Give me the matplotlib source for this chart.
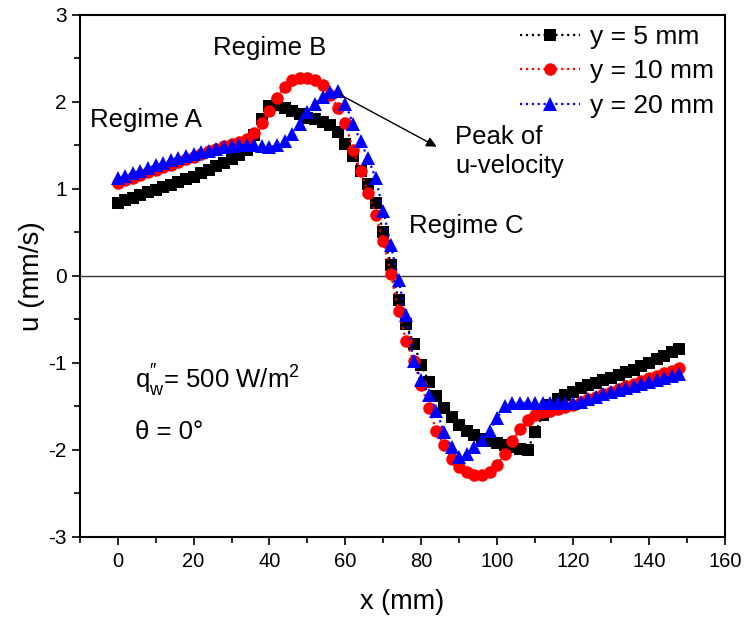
import numpy as np
import matplotlib
matplotlib.use("Agg")
import matplotlib.pyplot as plt
from matplotlib.ticker import MultipleLocator

plt.rcParams['font.family'] = ['Liberation Sans', 'DejaVu Sans']
plt.rcParams['mathtext.fontset'] = 'custom'
plt.rcParams['mathtext.rm'] = 'Liberation Sans'
plt.rcParams['axes.unicode_minus'] = False

# streamwise position (mm)
x_mm = np.arange(0, 150, 2)

# u-velocity (mm/s)
u_5mm = [0.84, 0.87, 0.90, 0.93, 0.96, 0.99, 1.02, 1.05, 1.08, 1.11,
         1.14, 1.18, 1.22, 1.26, 1.30, 1.34, 1.39, 1.45, 1.62, 1.80,
         1.95, 1.97, 1.93, 1.90, 1.86, 1.82, 1.80, 1.77, 1.73, 1.65,
         1.52, 1.38, 1.20, 1.06, 0.84, 0.50, 0.12, -0.28, -0.55, -0.78,
         -1.02, -1.22, -1.38, -1.52, -1.62, -1.71, -1.78, -1.83, -1.87, -1.90,
         -1.92, -1.95, -1.97, -1.99, -2.00, -1.80, -1.60, -1.48, -1.42, -1.37,
         -1.33, -1.29, -1.26, -1.23, -1.20, -1.17, -1.14, -1.11, -1.08, -1.04,
         -1.00, -0.96, -0.92, -0.88, -0.84]
u_10mm = [1.07, 1.10, 1.13, 1.16, 1.19, 1.22, 1.25, 1.28, 1.31, 1.34,
          1.37, 1.40, 1.43, 1.46, 1.49, 1.52, 1.54, 1.57, 1.64, 1.76,
          1.90, 2.05, 2.17, 2.25, 2.28, 2.28, 2.25, 2.19, 2.08, 1.93,
          1.76, 1.45, 1.20, 0.95, 0.70, 0.40, 0.02, -0.40, -0.75, -0.98,
          -1.25, -1.52, -1.78, -1.95, -2.10, -2.20, -2.26, -2.29, -2.29, -2.25,
          -2.17, -2.05, -1.90, -1.76, -1.66, -1.60, -1.57, -1.55, -1.53, -1.51,
          -1.48, -1.45, -1.42, -1.39, -1.36, -1.33, -1.30, -1.27, -1.24, -1.21,
          -1.18, -1.15, -1.12, -1.09, -1.06]
u_20mm = [1.12, 1.15, 1.18, 1.21, 1.24, 1.27, 1.30, 1.33, 1.36, 1.38,
          1.40, 1.42, 1.44, 1.46, 1.48, 1.49, 1.50, 1.50, 1.50, 1.49,
          1.48, 1.50, 1.55, 1.63, 1.75, 1.88, 1.98, 2.06, 2.11, 2.12,
          1.98, 1.75, 1.55, 1.35, 1.12, 0.75, 0.35, -0.05, -0.45, -0.98,
          -1.20, -1.37, -1.55, -1.80, -1.97, -2.08, -2.05, -1.97, -1.89, -1.78,
          -1.63, -1.50, -1.46, -1.46, -1.46, -1.46, -1.46, -1.46, -1.46, -1.46,
          -1.46, -1.45, -1.42, -1.39, -1.36, -1.34, -1.31, -1.29, -1.27, -1.24,
          -1.22, -1.20, -1.17, -1.15, -1.13]

labels = ["y = 5 mm", "y = 10 mm", "y = 20 mm"]
colors = ["black", "red", "blue"]
markers = ["s", "o", "^"]
msizes = [8.5, 9.0, 9.5]

fig = plt.figure(figsize=(7.45, 6.22), dpi=100)
ax = fig.add_axes([0.107, 0.137, 0.866, 0.839])

ax.axhline(0, color="#333333", lw=1.0, zorder=1)

for u, lab, c, m, s in zip([u_5mm, u_10mm, u_20mm], labels, colors, markers, msizes):
    ax.plot(x_mm, u, ls=":", lw=1.6, color=c, marker=m, ms=s,
            markeredgewidth=0, label=lab, zorder=3)

ax.set_xlim(-10, 160)
ax.set_ylim(-3, 3)
ax.xaxis.set_major_locator(MultipleLocator(20))
ax.xaxis.set_minor_locator(MultipleLocator(10))
ax.yaxis.set_major_locator(MultipleLocator(1))
ax.yaxis.set_minor_locator(MultipleLocator(0.5))
ax.tick_params(which="both", direction="out", width=1.2, labelsize=15)
ax.tick_params(which="major", length=6)
ax.tick_params(which="minor", length=4)
ax.tick_params(axis="x", labelsize=14.5, pad=5)
for sp in ax.spines.values():
    sp.set_linewidth(1.5)

ax.set_xlabel("x (mm)", fontsize=19.5, labelpad=13)
ax.set_ylabel("u (mm/s)", fontsize=20, labelpad=2)

ax.text(-7.4, 1.79, "Regime A", fontsize=18.5, va="center")
ax.text(25, 2.62, "Regime B", fontsize=18.5, va="center")
ax.text(76.8, 0.57, "Regime C", fontsize=18.5, va="center")
ax.annotate("", xy=(84.7, 1.47), xytext=(57.9, 2.10),
            arrowprops=dict(arrowstyle="-|>", color="black", lw=1.0,
                            mutation_scale=15))
ax.text(89, 1.43, "Peak of\nu-velocity", fontsize=18.5, va="center",
        linespacing=1.25)
ax.text(4.5, -1.2, r'q$_{\mathrm{w}}^{\prime\prime}$= 500 W/m$^{\mathrm{2}}$',
        fontsize=18.5, va="center")
ax.text(4.5, -1.79, "θ = 0°", fontsize=18.5, va="center")

fig.legend(loc="upper right", bbox_to_anchor=(0.958, 0.96), frameon=False,
           fontsize=19, handlelength=2.3, handletextpad=0.35,
           labelspacing=0.4, borderaxespad=0, borderpad=0)

fig.savefig("out.png", dpi=100)
